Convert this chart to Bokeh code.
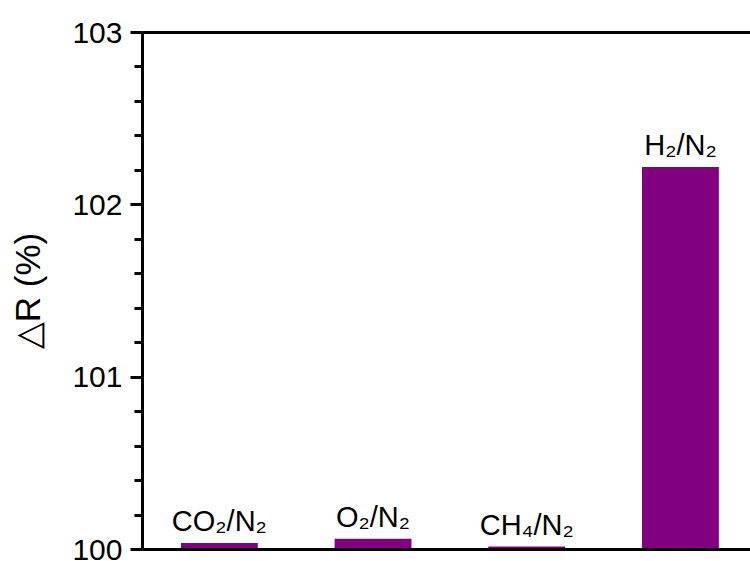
from bokeh.plotting import figure
from bokeh.models import Range1d, FixedTicker, LinearAxis, ColumnDataSource
from bokeh.embed import file_html
from bokeh.resources import INLINE
from bokeh.core.properties import value

# ---- data ----
categories = ["CO₂/N₂", "O₂/N₂", "CH₄/N₂", "H₂/N₂"]
delta_r = [100.037, 100.062, 100.017, 102.22]
baseline = 100
y_ticks = [100, 101, 102, 103]
y_minor = [100.2, 100.4, 100.6, 100.8, 101.2, 101.4, 101.6, 101.8,
           102.2, 102.4, 102.6, 102.8]
y_title = "△R (%)"

positions = list(range(1, len(categories) + 1))
src = ColumnDataSource(dict(x=positions, top=delta_r, label=categories))

FONT = "Liberation Sans"

p = figure(width=750, height=561, output_backend="svg", toolbar_location=None,
           x_range=Range1d(0.5, 4.456), y_range=Range1d(100, 103),
           x_axis_location=None, y_axis_location="left",
           min_border_left=142, min_border_top=32, min_border_bottom=12,
           min_border_right=0)
p.outline_line_color = None
p.grid.visible = False
p.background_fill_color = "white"
p.border_fill_color = "white"

p.vbar(x="x", top="top", bottom=baseline, width=0.5, source=src,
       fill_color="#800080", line_color=None)
p.text(x="x", y="top", text="label", source=src, y_offset=-22,
       text_align="center", text_baseline="alphabetic",
       text_font=value(FONT), text_font_size="29px", text_color="black")

ya = p.yaxis[0]
ya.ticker = FixedTicker(ticks=y_ticks, minor_ticks=y_minor)
ya.axis_line_width = 3
ya.axis_line_color = "black"
ya.major_tick_line_width = 3
ya.minor_tick_line_width = 3
ya.major_tick_in = 0
ya.major_tick_out = 12
ya.minor_tick_in = 0
ya.minor_tick_out = 8
ya.major_label_text_font = FONT
ya.major_label_text_font_size = "30px"
ya.major_label_text_color = "black"
ya.major_label_standoff = 8
ya.axis_label = y_title
ya.axis_label_text_font = FONT
ya.axis_label_text_font_size = "35px"
ya.axis_label_text_font_style = "normal"
ya.axis_label_text_color = "black"
ya.axis_label_standoff = 22

for loc in ("below", "above"):
    ax = LinearAxis(ticker=FixedTicker(ticks=[]))
    ax.axis_line_width = 3
    ax.axis_line_color = "black"
    ax.major_tick_out = 0
    ax.major_tick_in = 0
    ax.minor_tick_out = 0
    ax.minor_tick_in = 0
    ax.major_label_text_font_size = "0px"
    ax.major_label_standoff = 0
    p.add_layout(ax, loc)

open("out.html", "w").write(file_html(p, INLINE))
